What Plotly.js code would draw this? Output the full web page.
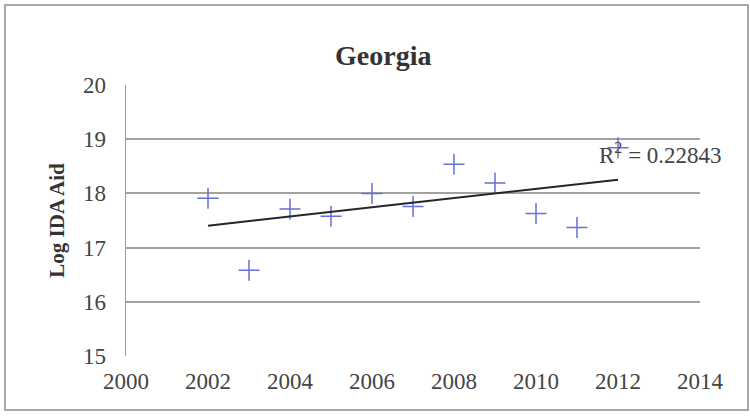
<!DOCTYPE html>
<html>
<head>
<meta charset="utf-8">
<script src="https://cdn.plot.ly/plotly-3.0.1.min.js"></script>
<style>
html,body{margin:0;padding:0;background:#fff;}
#chart{width:750px;height:418px;}
</style>
</head>
<body>
<div id="chart"></div>
<script>
const chartTitle = 'Georgia';
const yAxisTitle = 'Log IDA Aid';
const years = [2002, 2003, 2004, 2005, 2006, 2007, 2008, 2009, 2010, 2011, 2012];
const logIdaAid = [17.91, 16.58, 17.71, 17.58, 18.00, 17.76, 18.54, 18.19, 17.63, 17.37, 18.84];
const xTickVals = [2000, 2002, 2004, 2006, 2008, 2010, 2012, 2014];
const yTickVals = [15, 16, 17, 18, 19, 20];
const r2Text = 'R<sup>2</sup> = 0.22843';

// linear least-squares trendline from the data
const n = years.length;
const mx = years.reduce((a, b) => a + b, 0) / n;
const my = logIdaAid.reduce((a, b) => a + b, 0) / n;
let sxy = 0, sxx = 0;
for (let i = 0; i < n; i++) { sxy += (years[i] - mx) * (logIdaAid[i] - my); sxx += (years[i] - mx) ** 2; }
const slope = sxy / sxx, icpt = my - slope * mx;
const trendX = [years[0], years[n - 1]];
const trendY = trendX.map(x => icpt + slope * x);

const serif = '"Liberation Serif", "DejaVu Serif", serif';

const traces = [
  {
    x: years, y: logIdaAid, type: 'scatter', mode: 'markers',
    marker: { symbol: 'cross-thin-open', size: 15, line: { color: '#6272d8', width: 1.5 }, color: '#6272d8' },
    hoverinfo: 'x+y', showlegend: false
  },
  {
    x: trendX, y: trendY, type: 'scatter', mode: 'lines',
    line: { color: '#262626', width: 2 }, showlegend: false, hoverinfo: 'skip'
  }
];

// plot area pixel geometry: l=126, r=700, t=85, b=356
const L = 126, R = 700, T = 85, B = 356;
const px = v => (v - L) / (R - L);
const py = v => (B - v) / (B - T);

const layout = {
  width: 750, height: 418,
  margin: { l: L, r: 750 - R, t: T, b: 418 - B },
  paper_bgcolor: '#ffffff', plot_bgcolor: '#ffffff',
  title: {
    text: '<b>' + chartTitle + '</b>', xref: 'container', x: 0.511, xanchor: 'center',
    yref: 'container', y: 1 - 55 / 418, yanchor: 'middle',
    font: { family: serif, size: 28, color: '#333333' }
  },
  xaxis: {
    range: [2000, 2014], tickvals: xTickVals, ticktext: xTickVals.map(String),
    showgrid: false, zeroline: false, showline: false, ticks: '',
    tickfont: { family: serif, size: 23, color: '#444444' }, ticklabelstandoff: 9
  },
  yaxis: {
    range: [15, 20], tickvals: yTickVals, ticktext: yTickVals.map(String),
    showgrid: true, gridcolor: '#a2a2a2', gridwidth: 2, zeroline: false,
    showline: true, linecolor: '#9a9a9a', linewidth: 1.5, ticks: '',
    tickfont: { family: serif, size: 23, color: '#444444' }, ticklabelstandoff: 14,
    title: { text: '<b>' + yAxisTitle + '</b>', font: { family: serif, size: 21, color: '#333333' }, standoff: 12 }
  },
  annotations: [
    {
      text: r2Text, xref: 'paper', yref: 'paper', x: px(597), y: py(153),
      xanchor: 'left', yanchor: 'middle', showarrow: false,
      font: { family: serif, size: 23, color: '#444444' }
    }
  ],
  shapes: [
    {
      type: 'rect', xref: 'paper', yref: 'paper',
      x0: px(5), x1: px(748), y0: py(410), y1: py(5),
      line: { color: '#a8a8a8', width: 2 }, fillcolor: 'rgba(0,0,0,0)', layer: 'below'
    }
  ]
};

Plotly.newPlot('chart', traces, layout, { displayModeBar: false, staticPlot: true });
</script>
</body>
</html>
